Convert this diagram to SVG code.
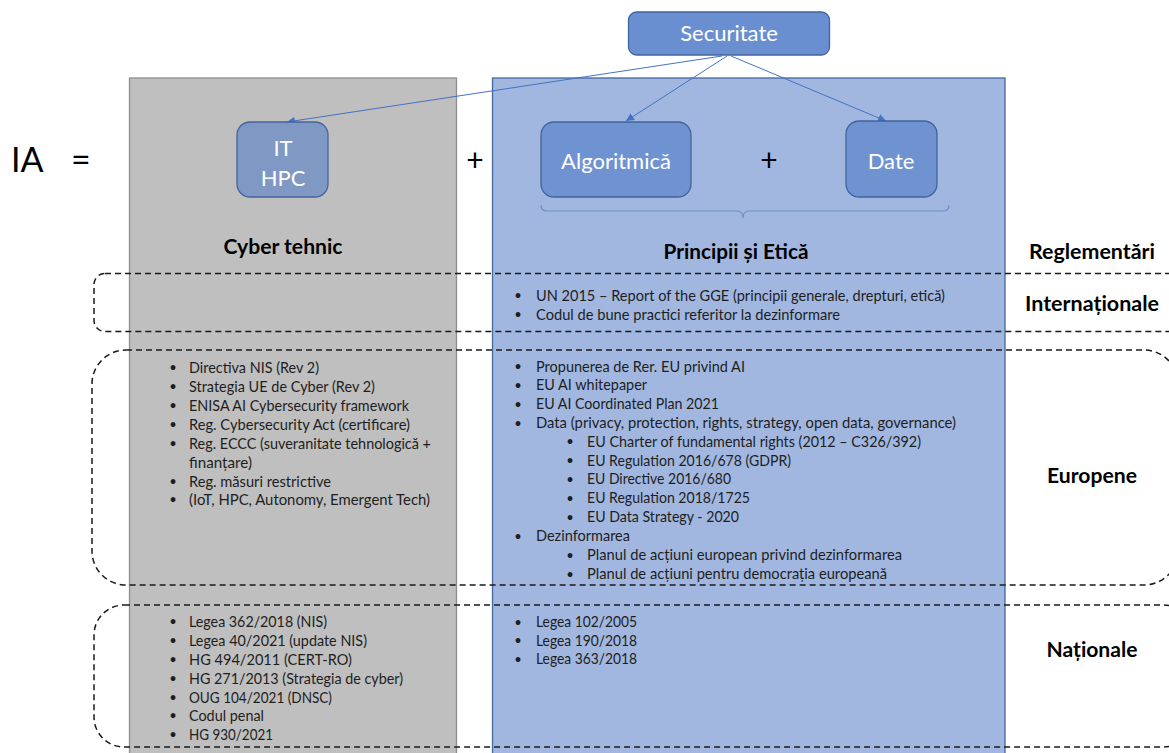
<svg xmlns="http://www.w3.org/2000/svg" width="1169" height="753" viewBox="0 0 1169 753">
<defs>
<marker id="ah" markerUnits="userSpaceOnUse" markerWidth="10" markerHeight="8" refX="8" refY="4" orient="auto">
<path d="M0,0 L8,4 L0,8 Z" fill="#4472c4"/>
</marker>
<style>
text{font-family:Lato,"Liberation Sans",sans-serif;}
.col-g{fill:#bfbfbf;stroke:#8e8e8e;stroke-width:1.3;}
.col-b{fill:#a1b7e0;stroke:#43679f;stroke-width:1.3;}
.dash{fill:none;stroke:#1a1a1a;stroke-width:1.5;stroke-dasharray:6 4;}
.node{stroke:#41649f;stroke-width:1.3;}
.nt{fill:#ffffff;font-size:22px;text-anchor:middle;}
.h{font-weight:bold;font-size:21px;fill:#000;text-anchor:middle;}
.li{font-size:16px;fill:#1e1e1e;}
.bl{font-size:13px;fill:#1e1e1e;text-anchor:middle;}
.big{font-size:34px;fill:#000;}
.plus{font-size:30px;fill:#000;text-anchor:middle;}
.conn{stroke:#4472c4;stroke-width:1;fill:none;}
</style>
</defs>

<g id="columns">
<rect id="col-cyber" class="col-g" x="129.5" y="78" width="327" height="700"/>
<rect id="col-principii" class="col-b" x="492.5" y="78" width="512.5" height="700"/>
</g>

<g id="regions">
<rect id="reg-internationale" class="dash" x="94" y="273.5" width="1120" height="58" rx="11"/>
<rect id="reg-europene" class="dash" x="92" y="350" width="1086" height="235" rx="34"/>
<rect id="reg-nationale" class="dash" x="94" y="605" width="1100" height="142" rx="30"/>
</g>

<g id="equation">
<text class="big" x="11" y="172">IA</text>
<text class="big" x="71" y="172">=</text>
<text class="plus" x="475" y="171">+</text>
<text class="plus" x="769" y="171">+</text>
</g>

<g id="connectors">
<line class="conn" x1="722" y1="56" x2="287" y2="122" marker-end="url(#ah)"/>
<line class="conn" x1="727" y1="56" x2="626" y2="121" marker-end="url(#ah)"/>
<line class="conn" x1="731" y1="56" x2="886" y2="121" marker-end="url(#ah)"/>
<path id="brace" d="M541,205 Q541,211 547,211 L737,211 Q743,211 743,218 Q743,211 749,211 L943,211 Q949,211 949,205" fill="none" stroke="#6f8fc9" stroke-width="1.2"/>
</g>

<g id="node-securitate">
<rect class="node" x="628.5" y="12" width="201" height="43" rx="8" fill="#6a8fd1"/>
<text class="nt" x="729" y="41">Securitate</text>
</g>
<g id="node-it-hpc">
<rect class="node" x="237" y="122" width="91" height="75" rx="13" fill="#8099c4"/>
<text class="nt" x="283" y="156">IT</text>
<text class="nt" x="283" y="186">HPC</text>
</g>
<g id="node-algoritmica">
<rect class="node" x="541" y="122" width="150" height="75" rx="13" fill="#6f93d1"/>
<text class="nt" x="616" y="169">Algoritmică</text>
</g>
<g id="node-date">
<rect class="node" x="846" y="121" width="91" height="76" rx="13" fill="#6f93d1"/>
<text class="nt" x="891" y="169">Date</text>
</g>

<g id="headings">
<text class="h" x="283" y="254" textLength="119" lengthAdjust="spacingAndGlyphs">Cyber tehnic</text>
<text class="h" x="736" y="259" textLength="145" lengthAdjust="spacingAndGlyphs">Principii și Etică</text>
<text class="h" x="1092" y="259" textLength="126" lengthAdjust="spacingAndGlyphs">Reglementări</text>
<text class="h" x="1092" y="311" textLength="134" lengthAdjust="spacingAndGlyphs">Internaționale</text>
<text class="h" x="1092" y="483" textLength="90" lengthAdjust="spacingAndGlyphs">Europene</text>
<text class="h" x="1092" y="657" textLength="91" lengthAdjust="spacingAndGlyphs">Naționale</text>
</g>

<g id="list-cyber-europene">
<text class="bl" x="173" y="372">•</text><text class="li" x="189" y="372.5" textLength="130" lengthAdjust="spacingAndGlyphs">Directiva NIS (Rev 2)</text>
<text class="bl" x="173" y="391">•</text><text class="li" x="189" y="391.5" textLength="186" lengthAdjust="spacingAndGlyphs">Strategia UE de Cyber (Rev 2)</text>
<text class="bl" x="173" y="410">•</text><text class="li" x="189" y="410.5" textLength="220" lengthAdjust="spacingAndGlyphs">ENISA AI Cybersecurity framework</text>
<text class="bl" x="173" y="429">•</text><text class="li" x="189" y="429.5" textLength="221" lengthAdjust="spacingAndGlyphs">Reg. Cybersecurity Act (certificare)</text>
<text class="bl" x="173" y="448">•</text><text class="li" x="189" y="448.5" textLength="242" lengthAdjust="spacingAndGlyphs">Reg. ECCC (suveranitate tehnologică +</text>
<text class="li" x="189" y="467.5" textLength="63" lengthAdjust="spacingAndGlyphs">finanțare)</text>
<text class="bl" x="173" y="486">•</text><text class="li" x="189" y="486.5" textLength="142" lengthAdjust="spacingAndGlyphs">Reg. măsuri restrictive</text>
<text class="bl" x="173" y="504">•</text><text class="li" x="189" y="504.5" textLength="241" lengthAdjust="spacingAndGlyphs">(IoT, HPC, Autonomy, Emergent Tech)</text>
</g>

<g id="list-cyber-nationale">
<text class="bl" x="173" y="626">•</text><text class="li" x="189" y="626.5" textLength="138" lengthAdjust="spacingAndGlyphs">Legea 362/2018 (NIS)</text>
<text class="bl" x="173" y="645">•</text><text class="li" x="189" y="645.5" textLength="178" lengthAdjust="spacingAndGlyphs">Legea 40/2021 (update NIS)</text>
<text class="bl" x="173" y="664">•</text><text class="li" x="189" y="664.5" textLength="163" lengthAdjust="spacingAndGlyphs">HG 494/2011 (CERT-RO)</text>
<text class="bl" x="173" y="683">•</text><text class="li" x="189" y="683.5" textLength="214" lengthAdjust="spacingAndGlyphs">HG 271/2013 (Strategia de cyber)</text>
<text class="bl" x="173" y="702">•</text><text class="li" x="189" y="702.5" textLength="143" lengthAdjust="spacingAndGlyphs">OUG 104/2021 (DNSC)</text>
<text class="bl" x="173" y="720">•</text><text class="li" x="189" y="720.5" textLength="75" lengthAdjust="spacingAndGlyphs">Codul penal</text>
<text class="bl" x="173" y="739">•</text><text class="li" x="189" y="739.5" textLength="84" lengthAdjust="spacingAndGlyphs">HG 930/2021</text>
</g>

<g id="list-principii-internationale">
<text class="bl" x="518" y="300">•</text><text class="li" x="536" y="300.5" textLength="409" lengthAdjust="spacingAndGlyphs">UN 2015 – Report of the GGE (principii generale, drepturi, etică)</text>
<text class="bl" x="518" y="319">•</text><text class="li" x="536" y="319.5" textLength="304" lengthAdjust="spacingAndGlyphs">Codul de bune practici referitor la dezinformare</text>
</g>

<g id="list-principii-europene">
<text class="bl" x="518" y="371">•</text><text class="li" x="536" y="371.5" textLength="209" lengthAdjust="spacingAndGlyphs">Propunerea de Rer. EU privind AI</text>
<text class="bl" x="518" y="389.5">•</text><text class="li" x="536" y="390" textLength="111" lengthAdjust="spacingAndGlyphs">EU AI whitepaper</text>
<text class="bl" x="518" y="408.5">•</text><text class="li" x="536" y="409" textLength="183" lengthAdjust="spacingAndGlyphs">EU AI Coordinated Plan 2021</text>
<text class="bl" x="518" y="427.5">•</text><text class="li" x="536" y="428" textLength="420" lengthAdjust="spacingAndGlyphs">Data (privacy, protection, rights, strategy, open data, governance)</text>
<text class="bl" x="570" y="446">•</text><text class="li" x="587" y="446.5" textLength="334" lengthAdjust="spacingAndGlyphs">EU Charter of fundamental rights (2012 – C326/392)</text>
<text class="bl" x="570" y="465">•</text><text class="li" x="587" y="465.5" textLength="204" lengthAdjust="spacingAndGlyphs">EU Regulation 2016/678 (GDPR)</text>
<text class="bl" x="570" y="483.5">•</text><text class="li" x="587" y="484" textLength="144" lengthAdjust="spacingAndGlyphs">EU Directive 2016/680</text>
<text class="bl" x="570" y="502.5">•</text><text class="li" x="587" y="503" textLength="163" lengthAdjust="spacingAndGlyphs">EU Regulation 2018/1725</text>
<text class="bl" x="570" y="521.5">•</text><text class="li" x="587" y="522" textLength="152" lengthAdjust="spacingAndGlyphs">EU Data Strategy - 2020</text>
<text class="bl" x="518" y="540.5">•</text><text class="li" x="536" y="541" textLength="94" lengthAdjust="spacingAndGlyphs">Dezinformarea</text>
<text class="bl" x="570" y="559.5">•</text><text class="li" x="587" y="560" textLength="315" lengthAdjust="spacingAndGlyphs">Planul de acțiuni european privind dezinformarea</text>
<text class="bl" x="570" y="578.5">•</text><text class="li" x="587" y="579" textLength="300" lengthAdjust="spacingAndGlyphs">Planul de acțiuni pentru democrația europeană</text>
</g>

<g id="list-principii-nationale">
<text class="bl" x="518" y="626.5">•</text><text class="li" x="536" y="627" textLength="101" lengthAdjust="spacingAndGlyphs">Legea 102/2005</text>
<text class="bl" x="518" y="645">•</text><text class="li" x="536" y="645.5" textLength="101" lengthAdjust="spacingAndGlyphs">Legea 190/2018</text>
<text class="bl" x="518" y="663.5">•</text><text class="li" x="536" y="664" textLength="101" lengthAdjust="spacingAndGlyphs">Legea 363/2018</text>
</g>
</svg>
